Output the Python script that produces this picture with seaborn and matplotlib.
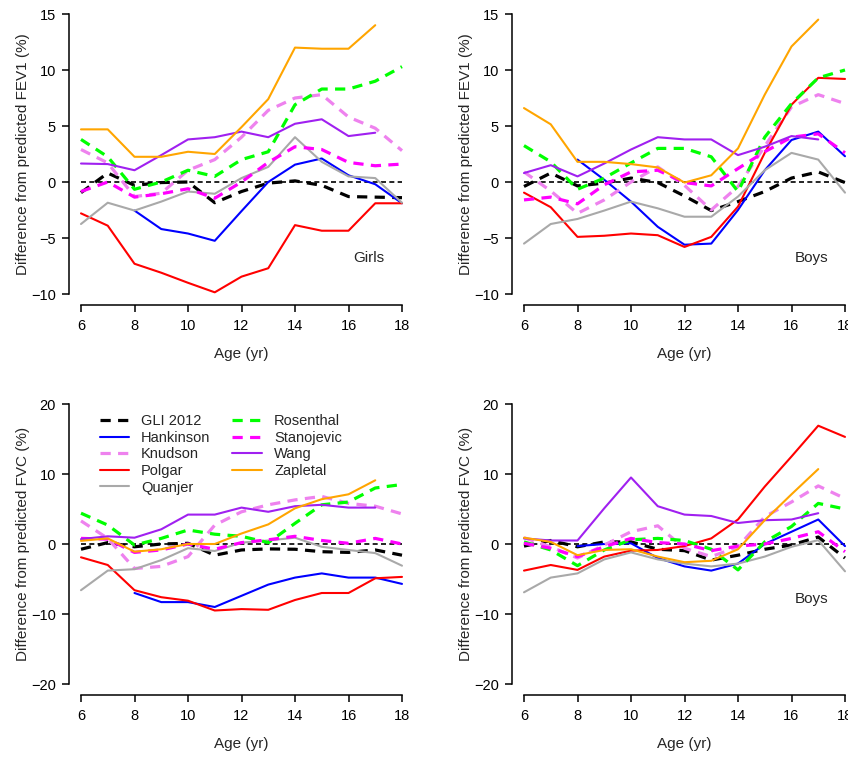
import numpy as np
import pandas as pd
import matplotlib
matplotlib.use("Agg")
import matplotlib.pyplot as plt
import seaborn as sns

N = np.nan
ages = [6, 7, 8, 9, 10, 11, 12, 13, 14, 15, 16, 17, 18]
studies = ["GLI 2012", "Hankinson", "Knudson", "Polgar", "Quanjer",
           "Rosenthal", "Stanojevic", "Wang", "Zapletal"]

# Girls FEV1
girls_fev1_gli = [-0.95, 0.8, -0.3, -0.05, 0.0, -1.85, -0.85, -0.1, 0.1, -0.3, -1.3, -1.35, -1.4]
girls_fev1_hankinson = [N, N, -2.55, -4.2, -4.6, -5.25, -2.6, 0.0, 1.55, 2.1, 0.6, -0.2, -1.9]
girls_fev1_knudson = [2.9, 1.7, -1.3, -1.0, 1.05, 2.0, 4.0, 6.4, 7.5, 7.8, 5.8, 4.8, 2.8]
girls_fev1_polgar = [-2.8, -3.9, -7.3, -8.1, -9.0, -9.85, -8.45, -7.7, -3.85, -4.35, -4.35, -1.9, -1.9]
girls_fev1_quanjer = [-3.75, -1.85, -2.55, -1.75, -0.85, -1.05, 0.35, 1.35, 4.0, 1.8, 0.5, 0.35, -1.85]
girls_fev1_rosenthal = [3.8, 2.25, -0.65, 0.0, 1.05, 0.5, 2.0, 2.7, 6.9, 8.3, 8.3, 9.0, 10.3]
girls_fev1_stanojevic = [-0.85, 0.0, -1.35, -1.05, -0.6, -1.45, 0.0, 1.75, 3.15, 2.9, 1.75, 1.45, 1.6]
girls_fev1_wang = [1.65, 1.6, 1.05, 2.4, 3.8, 4.0, 4.5, 4.0, 5.2, 5.6, 4.1, 4.4, N]
girls_fev1_zapletal = [4.7, 4.7, 2.25, 2.25, 2.7, 2.5, 4.9, 7.4, 12.0, 11.9, 11.9, 14.0, N]

# Boys FEV1
boys_fev1_gli = [-0.4, 0.8, -0.35, -0.1, 0.35, -0.05, -1.25, -2.55, -1.75, -0.85, 0.35, 0.9, -0.05]
boys_fev1_hankinson = [N, N, 2.0, 0.2, -1.75, -4.0, -5.6, -5.5, -2.5, 1.05, 3.75, 4.5, 2.3]
boys_fev1_knudson = [0.9, -0.8, -2.8, -1.6, 0.0, 1.35, -0.3, -2.5, -0.4, 3.2, 6.7, 7.8, 7.0]
boys_fev1_polgar = [-0.95, -2.25, -4.9, -4.8, -4.6, -4.75, -5.8, -4.9, -2.2, 2.6, 6.9, 9.3, 9.2]
boys_fev1_quanjer = [-5.5, -3.75, -3.3, -2.55, -1.75, -2.35, -3.1, -3.1, -1.3, 1.05, 2.6, 2.0, -0.95]
boys_fev1_rosenthal = [3.25, 1.8, -0.65, 0.35, 1.7, 3.0, 3.0, 2.25, -0.85, 4.0, 7.0, 9.3, 10.0]
boys_fev1_stanojevic = [-1.6, -1.35, -1.95, -0.25, 0.9, 1.05, -0.05, -0.35, 1.2, 2.7, 4.0, 4.3, 2.6]
boys_fev1_wang = [0.8, 1.5, 0.5, 1.65, 2.9, 4.0, 3.8, 3.8, 2.4, 3.15, 4.1, 3.8, N]
boys_fev1_zapletal = [6.6, 5.15, 1.8, 1.8, 1.6, 1.3, -0.05, 0.6, 3.0, 7.8, 12.1, 14.5, N]

# Girls FVC
girls_fvc_gli = [-0.75, 0.2, -0.4, 0.0, 0.1, -1.6, -0.85, -0.7, -0.75, -1.1, -1.2, -0.85, -1.6]
girls_fvc_hankinson = [N, N, -7.0, -8.3, -8.3, -9.0, -7.4, -5.8, -4.8, -4.2, -4.8, -4.8, -5.7]
girls_fvc_knudson = [3.3, 0.8, -3.5, -3.2, -1.8, 2.7, 4.6, 5.6, 6.3, 6.8, 5.8, 5.4, 4.3]
girls_fvc_polgar = [-1.9, -3.0, -6.6, -7.6, -8.1, -9.5, -9.3, -9.4, -8.0, -7.0, -7.0, -4.9, -4.7]
girls_fvc_quanjer = [-6.6, -3.8, -3.6, -2.3, -0.6, -1.0, 0.2, 0.5, 0.9, -0.4, -0.85, -1.3, -3.1]
girls_fvc_rosenthal = [4.4, 2.7, -0.15, 0.8, 2.0, 1.4, 1.1, 0.2, 2.95, 5.6, 6.0, 8.0, 8.5]
girls_fvc_stanojevic = [0.8, 0.7, -1.2, -0.85, 0.0, -0.75, 0.2, 0.6, 1.1, 0.5, 0.1, 0.8, 0.0]
girls_fvc_wang = [0.7, 1.1, 0.9, 2.1, 4.2, 4.2, 5.2, 4.6, 5.4, 5.6, 5.2, 5.2, N]
girls_fvc_zapletal = [0.45, 0.8, -1.1, -0.75, 0.0, 0.0, 1.5, 2.8, 5.1, 6.4, 7.1, 9.1, N]

# Boys FVC
boys_fvc_gli = [-0.3, 0.5, -0.4, 0.3, 0.3, -0.75, -0.95, -2.3, -1.6, -0.75, -0.15, 1.0, -2.0]
boys_fvc_hankinson = [N, N, -0.3, 0.0, 0.1, -2.0, -3.2, -3.8, -2.8, 0.0, 1.75, 3.5, -0.3]
boys_fvc_knudson = [0.9, -0.4, -2.0, -0.15, 1.75, 2.6, -0.6, -1.8, -0.4, 3.9, 6.0, 8.3, 6.5]
boys_fvc_polgar = [-3.8, -3.0, -3.7, -1.8, -0.95, -0.85, -0.3, 0.8, 3.5, 8.2, 12.5, 16.9, 15.3]
boys_fvc_quanjer = [-6.9, -4.8, -4.2, -2.2, -1.2, -2.2, -2.8, -3.2, -2.8, -1.8, -0.4, 0.55, -3.9]
boys_fvc_rosenthal = [0.3, -0.85, -3.1, -0.85, 0.6, 0.8, 0.5, -0.75, -3.7, 0.3, 2.5, 5.8, 5.0]
boys_fvc_stanojevic = [0.1, -0.6, -1.8, -0.4, 0.8, 0.2, 0.0, -0.95, -0.3, 0.0, 0.8, 1.75, -1.1]
boys_fvc_wang = [0.8, 0.5, 0.5, 5.1, 9.5, 5.4, 4.2, 4.0, 3.0, 3.4, 3.5, 4.4, N]
boys_fvc_zapletal = [0.9, 0.3, -1.6, -0.85, -0.75, -1.8, -2.6, -2.4, -0.75, 3.4, 7.1, 10.7, N]

panels = [
    ("Difference from predicted FEV1 (%)", "Girls",
     [girls_fev1_gli, girls_fev1_hankinson, girls_fev1_knudson, girls_fev1_polgar, girls_fev1_quanjer,
      girls_fev1_rosenthal, girls_fev1_stanojevic, girls_fev1_wang, girls_fev1_zapletal]),
    ("Difference from predicted FEV1 (%)", "Boys",
     [boys_fev1_gli, boys_fev1_hankinson, boys_fev1_knudson, boys_fev1_polgar, boys_fev1_quanjer,
      boys_fev1_rosenthal, boys_fev1_stanojevic, boys_fev1_wang, boys_fev1_zapletal]),
    ("Difference from predicted FVC (%)", None,
     [girls_fvc_gli, girls_fvc_hankinson, girls_fvc_knudson, girls_fvc_polgar, girls_fvc_quanjer,
      girls_fvc_rosenthal, girls_fvc_stanojevic, girls_fvc_wang, girls_fvc_zapletal]),
    ("Difference from predicted FVC (%)", "Boys",
     [boys_fvc_gli, boys_fvc_hankinson, boys_fvc_knudson, boys_fvc_polgar, boys_fvc_quanjer,
      boys_fvc_rosenthal, boys_fvc_stanojevic, boys_fvc_wang, boys_fvc_zapletal]),
]

colors = {"GLI 2012": "#000000", "Hankinson": "#0000FF", "Knudson": "#EE82EE",
          "Polgar": "#FF0000", "Quanjer": "#A9A9A9", "Rosenthal": "#00FF00",
          "Stanojevic": "#FF00FF", "Wang": "#A020F0", "Zapletal": "#FFA500"}
dashed = {"GLI 2012", "Knudson", "Rosenthal", "Stanojevic"}

sns.set_style("ticks")
plt.rcParams["font.family"] = ["Liberation Sans", "DejaVu Sans"]

W, H = 848, 758
fig = plt.figure(figsize=(W / 100, H / 100), dpi=100)

boxes = [(81, 14), (524, 14), (81, 404), (524, 404)]
pw, ph = 321, 280

for i, ((ylab, tag, series), (x0, y0)) in enumerate(zip(panels, boxes)):
    ax = fig.add_axes([x0 / W, 1 - (y0 + ph) / H, pw / W, ph / H])
    top = i < 2
    ax.axhline(0, color="black", lw=1.2, ls=(0, (3, 2)), clip_on=False, zorder=1,
               xmin=0, xmax=1)
    for name, vals in zip(studies, series):
        df = pd.DataFrame({"age": ages, "val": vals}).dropna()
        if name in dashed:
            lw, ls = 2.3, (0, (3.2, 2.3))
        else:
            lw, ls = 1.5, "-"
        sns.lineplot(data=df, x="age", y="val", ax=ax, color=colors[name],
                     linewidth=lw, linestyle=ls, label=name, legend=False,
                     clip_on=False, zorder=2)
    ax.set_xlim(6, 18)
    if top:
        ax.set_ylim(-10, 15)
        ax.set_yticks([-10, -5, 0, 5, 10, 15])
        ax.spines["left"].set_bounds(-10, 15)
    else:
        ax.set_ylim(-20, 20)
        ax.set_yticks([-20, -10, 0, 10, 20])
        ax.spines["left"].set_bounds(-20, 20)
    ax.set_xticks([6, 8, 10, 12, 14, 16, 18])
    ax.spines["bottom"].set_bounds(6, 18)
    for s in ["top", "right"]:
        ax.spines[s].set_visible(False)
    ax.spines["left"].set_position(("outward", 9.0))
    ax.spines["bottom"].set_position(("outward", 8.0))
    for s in ["left", "bottom"]:
        ax.spines[s].set_linewidth(1.1)
        ax.spines[s].set_color("black")
    ax.tick_params(axis="both", length=5, width=1.1, labelsize=10.5, color="black",
                   labelcolor="black")
    ax.tick_params(axis="y", pad=4)
    ax.tick_params(axis="x", pad=5)
    ax.set_xlabel("Age (yr)", fontsize=11)
    ax.set_ylabel(ylab, fontsize=11)
    ax.xaxis.set_label_coords(0.5, -0.19)
    ax.yaxis.set_label_coords(-0.16, 0.5)
    ax.patch.set_alpha(0)
    if tag is not None:
        ax.text(16.75, -6.8 if top else -7.9, tag, fontsize=11, ha="center",
                va="center")
    if i == 2:
        ax.legend(loc="upper left", bbox_to_anchor=(0.04, 0.985), ncol=2,
                  frameon=False, fontsize=10.5, handlelength=2.0,
                  handletextpad=0.85, labelspacing=0.18, columnspacing=1.5,
                  borderaxespad=0.0)

fig.savefig("out.png", dpi=100)
